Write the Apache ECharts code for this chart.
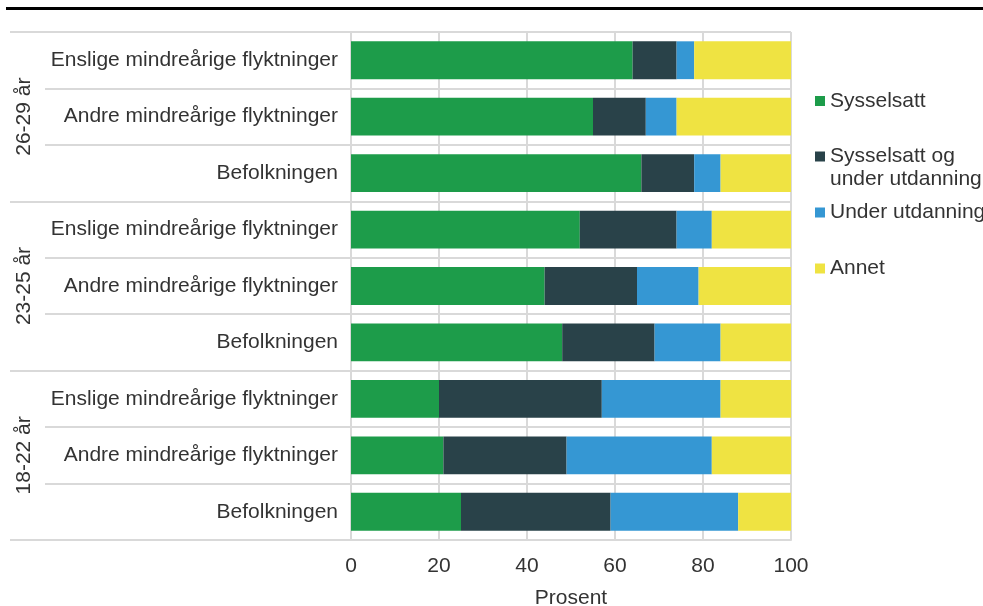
<!DOCTYPE html>
<html>
<head>
<meta charset="utf-8">
<script src="https://cdn.jsdelivr.net/npm/echarts@6/dist/echarts.min.js"></script>
<style>
html,body{margin:0;padding:0;background:#fff;}
#chart{width:983px;height:606px;}
</style>
</head>
<body>
<div id="chart"></div>
<script>
const categories = [
  'Enslige mindreårige flyktninger','Andre mindreårige flyktninger','Befolkningen',
  'Enslige mindreårige flyktninger','Andre mindreårige flyktninger','Befolkningen',
  'Enslige mindreårige flyktninger','Andre mindreårige flyktninger','Befolkningen'
];
const groups = ['26-29 år','23-25 år','18-22 år'];
const seriesNames = ['Sysselsatt','Sysselsatt og under utdanning','Under utdanning','Annet'];
const sysselsatt   = [64,55,66,52,44,48,20,21,25];
const sysselsattOgUtd = [10,12,12,22,21,21,37,28,34];
const underUtdanning = [4,7,6,8,14,15,27,33,29];
const annet        = [22,26,16,18,21,16,16,18,12];
const xTicks = [0,20,40,60,80,100];

const colors = ['#1d9c4a','#294249','#3597d3','#efe342'];
const values = [sysselsatt, sysselsattOgUtd, underUtdanning, annet];
const grid = '#d9d9d9';
const font = 'Liberation Sans, Arial, Helvetica, sans-serif';
const txt = '#333333';

const chart = echarts.init(document.getElementById('chart'), null, {renderer:'canvas'});

const legendTops = [84.5, 117, 196, 252];
const legends = seriesNames.map((n,i)=>({
  data:[n],
  left: 810,
  top: legendTops[i],
  orient:'vertical',
  icon:'rect',
  itemWidth:10,
  itemHeight:10,
  itemGap:5,
  selectedMode:false,
  formatter: i===1 ? '\nSysselsatt og\nunder utdanning' : '{name}',
  textStyle:{fontFamily:font,fontSize:21,color:txt,lineHeight:23}
}));

chart.setOption({
  animation:false,
  color: colors,
  textStyle:{fontFamily:font},
  graphic:[{type:'rect',shape:{x:6,y:7,width:977,height:3},style:{fill:'#000'}}],
  grid:{left:351,right:192,top:32,bottom:66,outerBoundsMode:'none',containLabel:false},
  legend: legends,
  xAxis:{
    type:'value', min:0, max:100, interval:20,
    axisLine:{show:true,lineStyle:{color:grid,width:2}},
    axisTick:{show:false},
    splitLine:{show:true,lineStyle:{color:grid,width:2}},
    axisLabel:{fontSize:21,color:txt,margin:16,fontFamily:font},
    name:'Prosent', nameLocation:'middle', nameGap:48,
    nameTextStyle:{fontSize:21,color:txt,fontFamily:font}
  },
  yAxis:[{
    type:'category', data:categories, inverse:true,
    axisLine:{show:true,lineStyle:{color:grid,width:2}},
    axisTick:{show:true,length:306,lineStyle:{color:grid,width:2}},
    splitLine:{show:true,lineStyle:{color:grid,width:2}},
    axisLabel:{fontSize:21,color:txt,margin:13,fontFamily:font}
  },{
    type:'category', data:groups, inverse:true, position:'left',
    axisLine:{show:false},
    axisTick:{show:true,length:341,lineStyle:{color:grid,width:2}},
    splitLine:{show:false},
    axisLabel:{rotate:90,fontSize:21,color:txt,margin:316,fontFamily:font}
  }],
  series: seriesNames.map((n,i)=>({
    name:n, type:'bar', stack:'total', yAxisIndex:0,
    barWidth:'67%',
    data: values[i],
    itemStyle:{color:colors[i]}
  }))
});
</script>
</body>
</html>
